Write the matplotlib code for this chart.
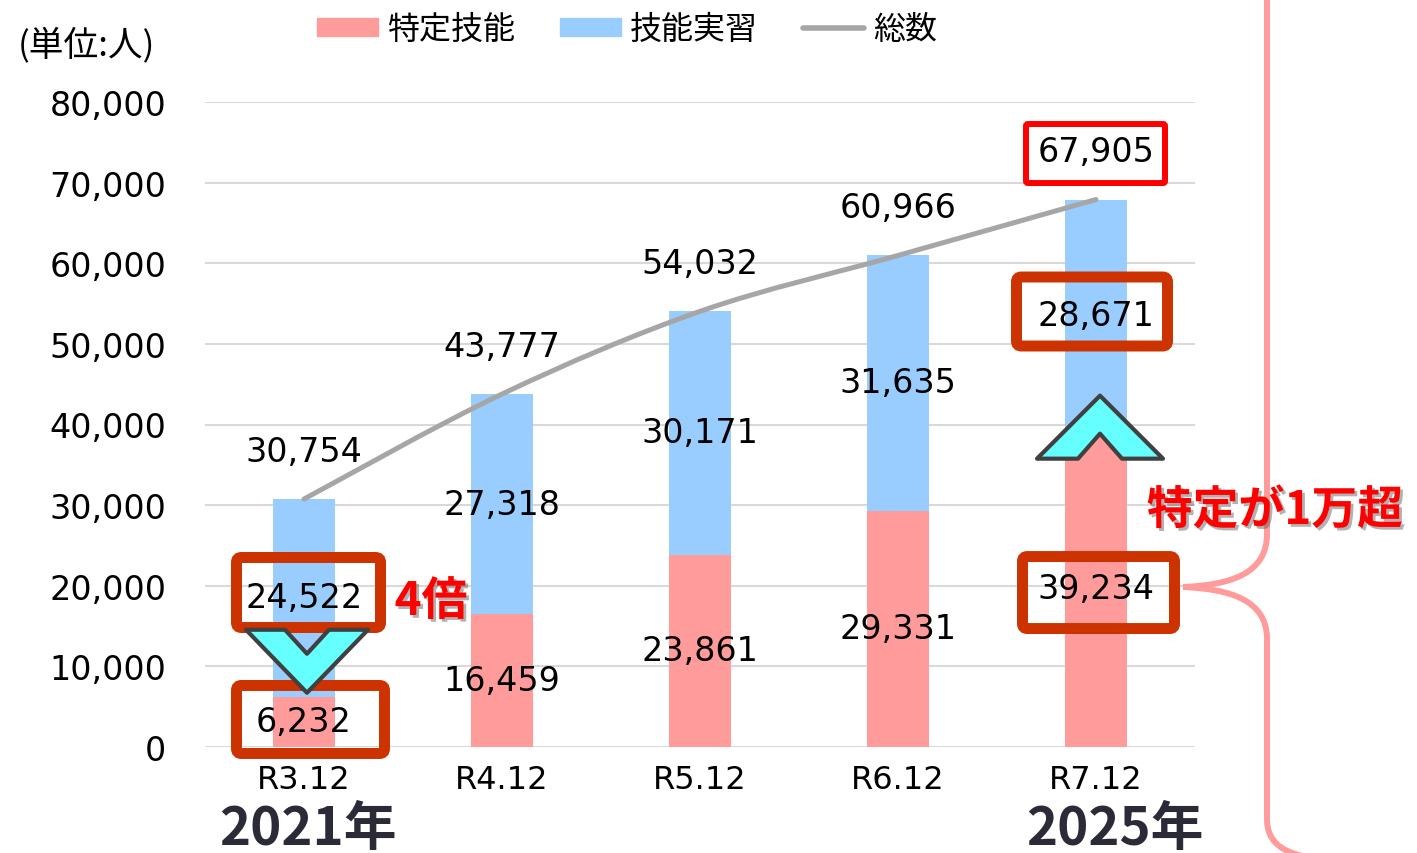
import matplotlib
matplotlib.use("Agg")
import matplotlib.pyplot as plt
import matplotlib.patheffects as pe
from matplotlib.patches import FancyBboxPatch, Polygon, Patch, PathPatch
from matplotlib.lines import Line2D
from matplotlib.path import Path
from matplotlib.transforms import IdentityTransform

plt.rcParams['font.family'] = ['Noto Sans CJK JP', 'DejaVu Sans']

# data
categories = ["R3.12", "R4.12", "R5.12", "R6.12", "R7.12"]
tokutei = [6232, 16459, 23861, 29331, 39234]      # 特定技能
jisshu = [24522, 27318, 30171, 31635, 28671]      # 技能実習
totals = [30754, 43777, 54032, 60966, 67905]      # 総数
yticks = [0, 10000, 20000, 30000, 40000, 50000, 60000, 70000, 80000]

PINK = "#FF9B9B"
BLUE = "#99CCFF"
GRAY = "#A6A6A6"
BOXRED = "#CC3300"
NUMFONT = "DejaVu Sans"
W, H = 1417, 854

fig = plt.figure(figsize=(W / 100, H / 100), dpi=100)
ax = fig.add_axes([205 / W, 1 - 748 / H, 990 / W, 645 / H])

x = list(range(len(categories)))
ax.bar(x, tokutei, width=0.31, color=PINK, zorder=2)
ax.bar(x, jisshu, width=0.31, bottom=tokutei, color=BLUE, zorder=2)

# smoothed total line (bezier through the data points)
pts = list(zip(x, totals))
verts = [pts[0]]
codes = [Path.MOVETO]
for i in range(len(pts) - 1):
    p0 = pts[i - 1] if i > 0 else pts[i]
    p1, p2 = pts[i], pts[i + 1]
    p3 = pts[i + 2] if i + 2 < len(pts) else pts[i + 1]
    c1 = (p1[0] + (p2[0] - p0[0]) / 6, p1[1] + (p2[1] - p0[1]) / 6)
    c2 = (p2[0] - (p3[0] - p1[0]) / 6, p2[1] - (p3[1] - p1[1]) / 6)
    verts += [c1, c2, p2]
    codes += [Path.CURVE4] * 3
ax.add_patch(PathPatch(Path(verts, codes), fill=False, edgecolor=GRAY, lw=3.6,
                       capstyle='round', zorder=3))

ax.set_xlim(-0.5, 4.5)
ax.set_ylim(0, 80000)
ax.set_yticks(yticks)
ax.set_yticklabels([f"{v:,}" for v in yticks], fontsize=24, fontfamily=NUMFONT)
ax.set_xticks(x)
ax.set_xticklabels(categories, fontsize=23, fontfamily=NUMFONT)
ax.tick_params(axis='y', length=0, pad=28)
ax.tick_params(axis='x', length=0, pad=12)
ax.grid(axis='y', color='#D9D9D9', lw=1.5, zorder=0)
for s in ax.spines.values():
    s.set_visible(False)

# value labels
for i in x:
    ax.annotate(f"{totals[i]:,}", (i, totals[i]), xytext=(0, 34.5),
                textcoords='offset points', ha='center', va='center',
                fontsize=24, family=NUMFONT)
    ax.text(i, tokutei[i] / 2, f"{tokutei[i]:,}", ha='center', va='center',
            fontsize=24, family=NUMFONT, zorder=4)
    ax.text(i, tokutei[i] + jisshu[i] / 2, f"{jisshu[i]:,}", ha='center',
            va='center', fontsize=24, family=NUMFONT, zorder=4)


def px(xd, yd):
    # data point -> display pixels
    return ax.transData.transform((xd, yd))


def box(xd, yd, dx, dy, w, h, color, lw, r):
    cx, cy = px(xd, yd)
    cx, cy = cx + dx, cy - dy
    p = FancyBboxPatch((cx - w / 2, cy - h / 2), w, h,
                       boxstyle=f"round,pad=0,rounding_size={r}",
                       transform=IdentityTransform(), fill=False,
                       edgecolor=color, lw=lw, zorder=6)
    fig.add_artist(p)


box(0, tokutei[0] + jisshu[0] / 2, 4.5, -5.4, 144, 70, BOXRED, 7.9, 5)
box(0, tokutei[0] / 2, 6.5, -2.4, 148, 68, BOXRED, 7.9, 5)
box(4, tokutei[4] + jisshu[4] / 2, -4, -3.6, 151, 69, BOXRED, 7.9, 5)
box(4, tokutei[4] / 2, 2.5, 3.7, 152, 72, BOXRED, 7.9, 5)
box(4, totals[4], -0.5, -46, 139, 59, "#FF0000", 4.3, 2)


def chevron(xd, yd, dx, top, inner, bottom, outer, gap):
    # offsets are in image pixels (positive = downward)
    cx, cy = px(xd, yd)
    cx = cx + dx
    shape = [(cx - outer, cy - top), (cx - gap, cy - top), (cx, cy - inner),
             (cx + gap, cy - top), (cx + outer, cy - top), (cx, cy - bottom)]
    fig.add_artist(Polygon(shape, closed=True, transform=IdentityTransform(),
                           facecolor="#66FFFF", edgecolor="#404040", lw=3,
                           joinstyle='round', zorder=7))


# down chevron (R3.12), up chevron (R7.12)
chevron(0, tokutei[0], 3, -67, -43, -4, 61, 22)
chevron(4, tokutei[4], 4, 28, 3, -35, 63, 22)


# curly brace on the right
def d(xp, yp):
    return (xp, H - yp)


brace = [d(1267, -10), d(1267, 535), d(1267, 575), d(1230, 586), d(1183, 588),
         d(1230, 590), d(1267, 601), d(1267, 640), d(1267, 820),
         d(1267, 845), d(1285, 856), d(1320, 860)]
bcodes = [Path.MOVETO, Path.LINETO, Path.CURVE4, Path.CURVE4, Path.CURVE4,
          Path.CURVE4, Path.CURVE4, Path.CURVE4, Path.LINETO,
          Path.CURVE4, Path.CURVE4, Path.CURVE4]
fig.add_artist(PathPatch(Path(brace, bcodes), transform=IdentityTransform(),
                         fill=False, edgecolor=PINK, lw=4.3, zorder=1))

# red callouts
shadow = [pe.SimplePatchShadow(offset=(2, -2), shadow_rgbFace='#555555', alpha=0.45),
          pe.Normal()]
fig.text(431 / W, 1 - 603 / H, "4倍", color="#FF0000", fontsize=33,
         fontweight='bold', ha='center', va='center', path_effects=shadow)
fig.text(1275 / W, 1 - 512 / H, "特定が1万超", color="#FF0000", fontsize=33,
         fontweight='bold', ha='center', va='center', path_effects=shadow)

# years
fig.text(308 / W, 1 - 830 / H, "2021年", color="#2B2B38", fontsize=38,
         fontweight='bold', ha='center', va='center')
fig.text(1115 / W, 1 - 830 / H, "2025年", color="#2B2B38", fontsize=38,
         fontweight='bold', ha='center', va='center')

fig.text(86 / W, 1 - 45 / H, "(単位:人)", fontsize=25, ha='center', va='center')

handles = [Patch(color=PINK), Patch(color=BLUE),
           Line2D([], [], color=GRAY, lw=4, solid_capstyle='round')]
fig.legend(handles, ["特定技能", "技能実習", "総数"], ncol=3, frameon=False,
           fontsize=23, loc='center', bbox_to_anchor=(627 / W, 1 - 30 / H),
           handlelength=1.9, handleheight=0.5, handletextpad=0.3,
           columnspacing=1.4)

fig.savefig("out.png", dpi=100, facecolor='white')
